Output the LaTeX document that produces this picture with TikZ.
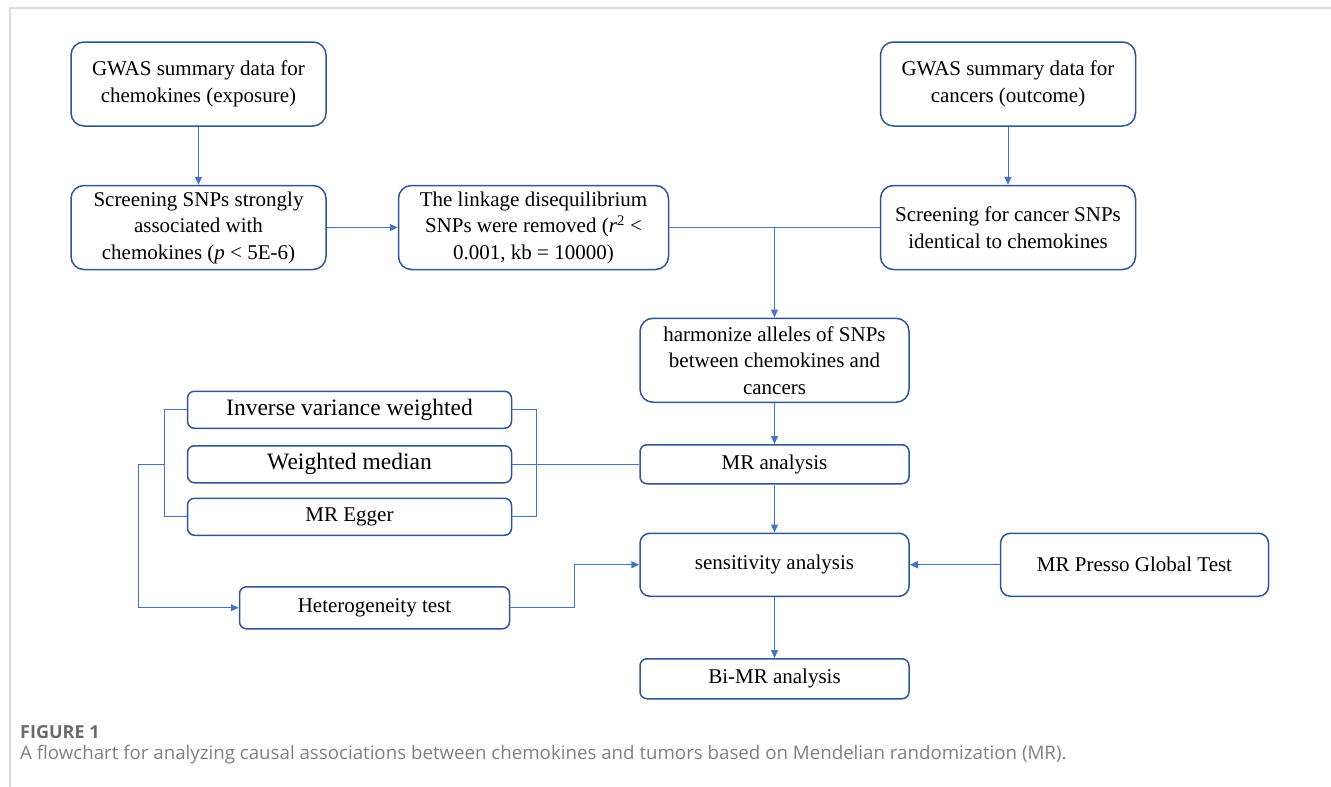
\documentclass[tikz,border=0pt]{standalone}
\usepackage{fontspec}
\setmainfont{Liberation Serif}
\newfontfamily\capfont{Open Sans}
\usepackage{xcolor}
\usepackage{tikz}
\usetikzlibrary{arrows.meta, positioning, calc}

\definecolor{boxblue}{RGB}{47,85,151}
\definecolor{lineblue}{RGB}{68,114,196}
\definecolor{framegray}{RGB}{218,218,218}
\definecolor{capgray}{RGB}{105,105,105}

\begin{document}
\begin{tikzpicture}[
    x=1pt, y=1pt,
    node distance=58pt and 71pt,
    block/.style={rectangle, draw=boxblue, line width=1.5pt,
                  minimum width=255pt, minimum height=84pt,
                  align=center, inner sep=2pt,
                  font=\fontsize{21}{26.5}\selectfont,
                  rounded corners=13pt},
    slim/.style={block, minimum height=38pt, rounded corners=7pt},
    bigtxt/.style={font=\fontsize{23.5}{28}\selectfont},
    arr/.style={-{Triangle[length=8pt, width=7pt]}, line width=1pt, lineblue},
    link/.style={line width=1pt, lineblue},
    pageframe/.style={line width=2pt, framegray},
    figlbl/.style={font=\capfont\bfseries\fontsize{18}{21}\selectfont,
                  text=capgray, anchor=west, inner sep=0pt},
    caplbl/.style={font=\capfont\fontsize{18.7}{22}\selectfont,
                  text=capgray!85, anchor=west, inner sep=0pt},
  ]
    \useasboundingbox (0,0) rectangle (1331,-787);

    % ── Exposure side ────────────────────────────
    \node[block] (gwasE) at (198.5,-84) {GWAS summary data for\\chemokines (exposure)};
    \node[block, below=of gwasE] (snpE) {Screening SNPs strongly\\associated with\\chemokines (\textit{p} < 5E-6)};
    \node[block, right=of snpE, minimum width=270pt] (ld) {The linkage disequilibrium\\SNPs were removed (\textit{r}\textsuperscript{2} <\\0.001, kb = 10000)};

    % ── Outcome side ─────────────────────────────
    \node[block] (gwasO) at (1008,-84) {GWAS summary data for\\cancers (outcome)};
    \node[block, below=of gwasO] (snpO) {Screening for cancer SNPs\\identical to chemokines};
    \coordinate (join) at ($(ld.east)!0.5!(snpO.west)$);

    % ── Main column ──────────────────────────────
    \node[block, below=90pt of join, minimum width=269pt] (harm) {harmonize alleles of SNPs\\between chemokines and\\cancers};
    \node[slim, below=41pt of harm, minimum width=269pt, minimum height=39pt] (mr) {MR analysis};
    \node[block, below=48pt of mr, minimum width=269pt, minimum height=63pt, rounded corners=10pt] (sens) {sensitivity analysis};
    \node[slim, below=61pt of sens, minimum width=269pt, minimum height=40pt] (bimr) {Bi-MR analysis};
    \node[block, right=90pt of sens, minimum width=268pt, minimum height=63pt, rounded corners=10pt] (presso) {MR Presso Global Test};

    % ── MR methods ───────────────────────────────
    \node[slim, bigtxt, left=127pt of mr, minimum width=324pt, minimum height=37pt] (wm) {Weighted median};
    \node[slim, bigtxt, above=16pt of wm, minimum width=324pt, minimum height=37pt] (ivw) {Inverse variance weighted};
    \node[slim, below=14pt of wm, minimum width=324pt, minimum height=37pt] (egger) {MR Egger};
    \node[slim, below=50pt of egger, xshift=25pt, minimum width=270pt, minimum height=42pt] (het) {Heterogeneity test};

    % ── Arrows ───────────────────────────────────
    \draw[arr] (gwasE) -- (snpE);
    \draw[arr] (snpE) -- (ld);
    \draw[arr] (gwasO) -- (snpO);
    \draw[link] (ld.east) -- (snpO.west);
    \draw[arr] (join) -- (harm.north);
    \draw[arr] (harm) -- (mr);
    \draw[arr] (mr) -- (sens);
    \draw[arr] (sens) -- (bimr);
    \draw[arr] (presso) -- (sens);

    % ── Brackets round the methods ───────────────
    \coordinate (brL) at ([xshift=-22pt]ivw.west);
    \coordinate (brR) at ([xshift=24pt]ivw.east);
    \draw[link] (ivw.west) -- (brL) |- (egger.west);
    \draw[link] (ivw.east) -- (brR) |- (egger.east);
    \draw[link] (wm.east) -- (mr.west);
    \draw[arr] (brL |- wm.west) -- ++(-26pt,0) |- (het.west);
    \draw[arr] (het.east) -- ++(64pt,0) |- (sens.west);

    % ── Frame and caption ────────────────────────
    \draw[pageframe] (1331,-7.5) -- (10,-7.5) -- (10,-787);
    \node[figlbl] (fig) at (20,-732) {FIGURE 1};
    \node[caplbl] (cap) at (20,-755) {A flowchart for analyzing causal associations between chemokines and tumors based on Mendelian randomization (MR).};
  \end{tikzpicture}
\end{document}
